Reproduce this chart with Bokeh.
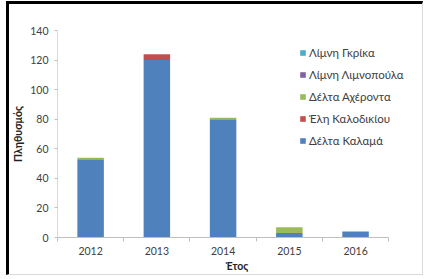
from bokeh.plotting import figure
from bokeh.models import FixedTicker, Legend, LegendItem, ColumnDataSource, Range1d
from bokeh.embed import file_html
from bokeh.resources import INLINE

years = ["2012", "2013", "2014", "2015", "2016"]
kalama = [53, 120, 80, 3, 4]
kalodikiou = [0, 4, 0, 0, 0]
acheronta = [1, 0, 1, 4, 0]
limnopoula = [0, 0, 0, 0, 0]
gkrika = [0, 0, 0, 0, 0]

series = ["Δέλτα Καλαμά", "Έλη Καλοδικίου", "Δέλτα Αχέροντα", "Λίμνη Λιμνοπούλα", "Λίμνη Γκρίκα"]
colors = ["#4F81BD", "#C0504D", "#9BBB59", "#8064A2", "#4BACC6"]
yticks = [0, 20, 40, 60, 80, 100, 120, 140]

xpos = [i + 1 for i in range(len(years))]
src = ColumnDataSource(dict(x=xpos, s0=kalama, s1=kalodikiou, s2=acheronta, s3=limnopoula, s4=gkrika))

FONT = "Lato"
TXT = "#404040"

# frame extends right past the last category so the legend is not clipped;
# the axis line itself is bounded to the categories
p = figure(width=417, height=274, output_backend="svg", toolbar_location=None,
           x_range=Range1d(0.5, 5.92), y_range=Range1d(0, 140),
           min_border_left=43, min_border_right=10, min_border_top=26, min_border_bottom=41)
p.styles = {"margin-left": "6px", "margin-top": "1px", "margin-right": "-20px", "margin-bottom": "-20px",
            "box-sizing": "border-box",
            "border-left": "3px solid black", "border-top": "3px solid black",
            "border-right": "1px solid #d9d9d9", "border-bottom": "1px solid #d9d9d9"}

rs = p.vbar_stack(["s0", "s1", "s2", "s3", "s4"], x="x", width=0.4, source=src,
                  color=colors, line_color=None)

p.outline_line_color = None
p.xgrid.grid_line_color = None
p.ygrid.grid_line_color = None

p.xaxis.bounds = (0.5, len(years) + 0.5)
p.xaxis.ticker = FixedTicker(ticks=xpos, minor_ticks=[x - 0.5 for x in xpos] + [xpos[-1] + 0.5])
p.xaxis.major_label_overrides = {x: y for x, y in zip(xpos, years)}
p.xaxis.major_tick_line_color = None
p.xaxis.major_tick_in = 0
p.xaxis.major_tick_out = 4
p.xaxis.minor_tick_in = 0
p.xaxis.minor_tick_out = 4
p.xaxis.minor_tick_line_color = "#bfbfbf"
p.xaxis.axis_line_color = "#bfbfbf"
p.xaxis.axis_label = "Έτος"
p.xaxis.major_label_standoff = 5
p.xaxis.axis_label_standoff = 2

p.yaxis.ticker = FixedTicker(ticks=yticks)
p.yaxis.minor_tick_line_color = None
p.yaxis.major_tick_in = 0
p.yaxis.major_tick_out = 3
p.yaxis.major_tick_line_color = "#bfbfbf"
p.yaxis.axis_line_color = "#d9d9d9"
p.yaxis.axis_label = "Πληθυσμός"
p.yaxis.major_label_standoff = 6
p.yaxis.axis_label_standoff = 3

for ax in (p.xaxis, p.yaxis):
    ax.major_label_text_font = FONT
    ax.major_label_text_font_size = "10.5px"
    ax.major_label_text_color = TXT
    ax.axis_label_text_font = FONT
    ax.axis_label_text_font_size = "10.5px"
    ax.axis_label_text_font_style = "bold"
    ax.axis_label_text_color = "#222222"

items = [LegendItem(label=series[i], renderers=[rs[i]]) for i in reversed(range(len(series)))]
legend = Legend(items=items, location=(242, 89), padding=0, margin=0,
                glyph_width=7, glyph_height=7, label_height=16, spacing=6,
                label_standoff=3, border_line_color=None, background_fill_alpha=0,
                label_text_font=FONT, label_text_font_size="11.5px", label_text_color=TXT)
p.add_layout(legend, "center")

open("out.html", "w").write(file_html(p, INLINE))
